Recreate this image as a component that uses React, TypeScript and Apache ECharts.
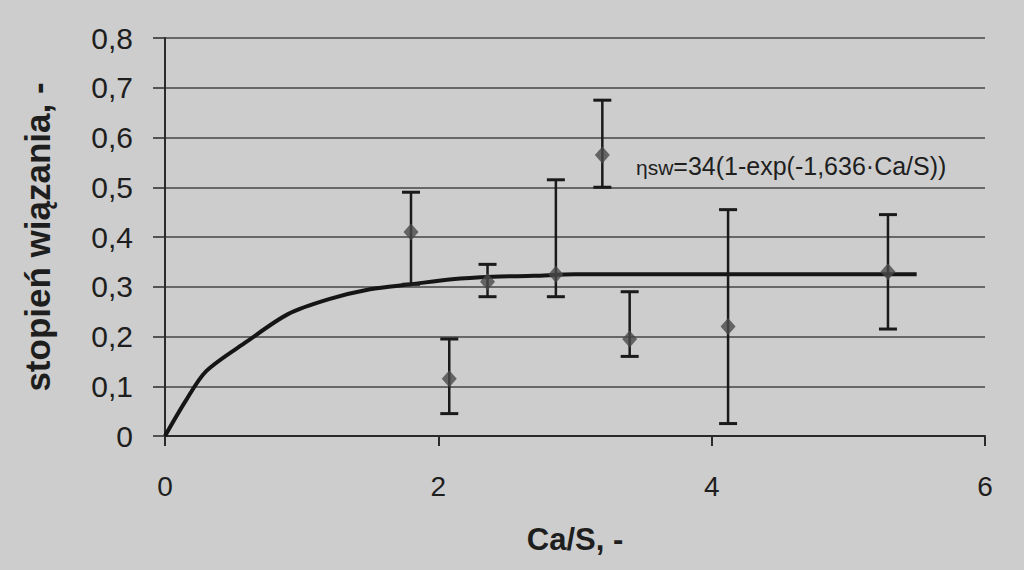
import React, { useEffect, useRef } from "react";
import * as echarts from "echarts";

const yTicks = ["0", "0,1", "0,2", "0,3", "0,4", "0,5", "0,6", "0,7", "0,8"];
const caS = [1.8, 2.08, 2.36, 2.86, 3.2, 3.4, 4.12, 5.29];
const eta = [0.41, 0.115, 0.31, 0.325, 0.565, 0.195, 0.22, 0.33];
const etaLow = [0.305, 0.045, 0.28, 0.28, 0.5, 0.16, 0.025, 0.215];
const etaHigh = [0.49, 0.195, 0.345, 0.515, 0.675, 0.29, 0.455, 0.445];
const curveX = [0, 0.15, 0.3, 0.6, 0.9, 1.2, 1.5, 1.8, 2.1, 2.4, 2.7, 3.0, 3.5, 4.0, 4.5, 5.0, 5.5];
const curveY = [0, 0.07, 0.13, 0.19, 0.245, 0.275, 0.295, 0.305, 0.315, 0.32, 0.322, 0.325, 0.325, 0.325, 0.325, 0.325, 0.325];
const fitLabel = "=34(1-exp(-1,636·Ca/S))";

export default function App() {
  const ref = useRef<HTMLDivElement>(null);
  useEffect(() => {
    const chart = echarts.init(ref.current!, null, { renderer: "svg" });
    const textColor = "#1e1e1e";
    chart.setOption({
      animation: false,
      backgroundColor: "#cdcdcd",
      grid: { left: 165, right: 39, top: 38, bottom: 134 },
      xAxis: {
        type: "value",
        min: 0,
        max: 6,
        interval: 2,
        name: "Ca/S, -",
        nameLocation: "middle",
        nameGap: 88,
        nameTextStyle: { fontFamily: "Liberation Sans", fontSize: 31, fontWeight: "bold", color: textColor },
        axisLine: { show: true, lineStyle: { color: "#2a2a2a", width: 2 } },
        axisTick: { show: true, length: 10, lineStyle: { color: "#2a2a2a", width: 2 } },
        axisLabel: { fontFamily: "Liberation Sans", fontSize: 28, color: textColor, margin: 36 },
        splitLine: { show: false },
      },
      yAxis: {
        type: "value",
        min: 0,
        max: 0.8,
        interval: 0.1,
        name: "stopień wiązania, -",
        nameLocation: "middle",
        nameGap: 110,
        nameTextStyle: { fontFamily: "Liberation Sans", fontSize: 35, fontWeight: "bold", color: textColor },
        axisLine: { show: true, lineStyle: { color: "#2a2a2a", width: 2 } },
        axisTick: { show: true, length: 12, lineStyle: { color: "#2a2a2a", width: 1.5 } },
        axisLabel: {
          fontFamily: "Liberation Sans",
          fontSize: 30,
          color: textColor,
          margin: 32,
          formatter: (v: number) => yTicks[Math.round(v * 10)],
        },
        splitLine: { show: true, lineStyle: { color: "#454545", width: 1.5 } },
      },
      graphic: [
        {
          type: "text",
          left: 636,
          top: 153,
          style: {
            text: "{s|ηsw}{b|" + fitLabel + "}",
            rich: {
              s: { fontFamily: "Liberation Sans", fontSize: 21, fill: textColor, verticalAlign: "bottom" },
              b: { fontFamily: "Liberation Sans", fontSize: 25, fill: textColor },
            },
          },
        },
      ],
      series: [
        {
          type: "line",
          data: curveX.map((x, i) => [x, curveY[i]]),
          showSymbol: false,
          smooth: 0.3,
          lineStyle: { color: "#151515", width: 4 },
          z: 2,
        },
        {
          type: "custom",
          data: caS.map((x, i) => [x, etaLow[i], etaHigh[i]]),
          renderItem: (params: any, api: any) => {
            const lo = api.coord([api.value(0), api.value(1)]);
            const hi = api.coord([api.value(0), api.value(2)]);
            const w = 9;
            const st = { stroke: "#1a1a1a", lineWidth: 2.5 };
            return {
              type: "group",
              children: [
                { type: "line", shape: { x1: lo[0], y1: lo[1], x2: hi[0], y2: hi[1] }, style: st },
                { type: "line", shape: { x1: lo[0] - w, y1: lo[1], x2: lo[0] + w, y2: lo[1] }, style: { stroke: "#1a1a1a", lineWidth: 3 } },
                { type: "line", shape: { x1: hi[0] - w, y1: hi[1], x2: hi[0] + w, y2: hi[1] }, style: { stroke: "#1a1a1a", lineWidth: 3 } },
              ],
            };
          },
          z: 3,
        },
        {
          type: "scatter",
          data: caS.map((x, i) => [x, eta[i]]),
          symbol: "diamond",
          symbolSize: [15, 17],
          itemStyle: { color: "#4a4a4a" },
          z: 4,
        },
      ],
    });
    return () => chart.dispose();
  }, []);
  return <div ref={ref} style={{ position: "fixed", left: 0, top: 0, width: 1024, height: 570 }} />;
}
